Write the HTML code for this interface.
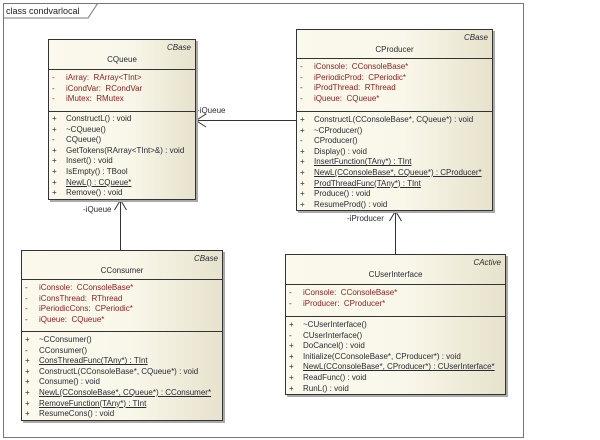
<!DOCTYPE html>
<html><head><meta charset="utf-8"><style>
body{margin:0;width:600px;height:440px;background:#fff;position:relative;overflow:hidden;font-family:"Liberation Sans",sans-serif;font-size:8px;color:#2a2a35}
.frame{position:absolute;left:3px;top:3px;width:519px;height:433px;border:1px solid #777}
.cls{position:absolute;border:1px solid #333;background:linear-gradient(90deg,#fbf9ec 0%,#f9f7e9 55%,#e6e2cc 100%);box-shadow:2px 2px 0 #aaa}
.st{position:absolute;right:4px;top:3px;font-style:italic}
.nm{position:absolute;left:0;right:0;text-align:center}
.hr{position:absolute;left:0;right:0;border-top:1px solid #333}
.r{position:absolute;left:3px;white-space:nowrap;line-height:10.6px}
.r b{font-weight:normal;display:inline-block;width:14px}
.a{color:#8a1c1c}
.u{text-decoration:underline}
.lbl{position:absolute;white-space:nowrap;font-size:8px}
</style></head><body>
<div class="frame"></div>
<svg width="100" height="18" style="position:absolute;left:3px;top:3px"><path d="M0 15 H85 L95 0" fill="none" stroke="#777"/><text x="3" y="11" font-family="Liberation Sans" font-size="9" fill="#222">class condvarlocal</text></svg>

<svg width="600" height="440" style="position:absolute;left:0;top:0">
<g stroke="#333" fill="none" stroke-width="1">
<line x1="296" y1="120.5" x2="196" y2="120.5"/><path d="M206 114 L196 120.5 L206 127"/>
<line x1="120.5" y1="250" x2="120.5" y2="200"/><path d="M114.5 210 L120.5 200 L126.5 210"/>
<line x1="395.5" y1="254" x2="395.5" y2="211"/><path d="M389.5 221 L395.5 211 L401.5 221"/>
</g></svg>
<div class="lbl" style="left:197px;top:106px">-iQueue</div>
<div class="lbl" style="left:83px;top:205px">-iQueue</div>
<div class="lbl" style="left:347px;top:214px">-iProducer</div>

<div class="cls" style="left:48px;top:39px;width:146px;height:159px">
<div class="st">CBase</div><div class="nm" style="top:15px">CQueue</div>
<div class="hr" style="top:29px"></div>
<div class="r a" style="top:33px"><b>-</b>iArray:&nbsp; RArray&lt;TInt&gt;</div>
<div class="r a" style="top:43.6px"><b>-</b>iCondVar:&nbsp; RCondVar</div>
<div class="r a" style="top:54.2px"><b>-</b>iMutex:&nbsp; RMutex</div>
<div class="hr" style="top:71px"></div>
<div class="r" style="top:74px"><b>+</b>ConstructL() : void</div>
<div class="r" style="top:84.6px"><b>+</b>~CQueue()</div>
<div class="r" style="top:95.2px"><b>-</b>CQueue()</div>
<div class="r" style="top:105.8px"><b>+</b>GetTokens(RArray&lt;TInt&gt;&amp;) : void</div>
<div class="r" style="top:116.4px"><b>+</b>Insert() : void</div>
<div class="r" style="top:127px"><b>+</b>IsEmpty() : TBool</div>
<div class="r" style="top:137.6px"><b>+</b><span class="u">NewL() : CQueue*</span></div>
<div class="r" style="top:148.2px"><b>+</b>Remove() : void</div>
</div>

<div class="cls" style="left:296px;top:29px;width:195px;height:180px">
<div class="st">CBase</div><div class="nm" style="top:15px">CProducer</div>
<div class="hr" style="top:28px"></div>
<div class="r a" style="top:32px"><b>-</b>iConsole:&nbsp; CConsoleBase*</div>
<div class="r a" style="top:42.6px"><b>-</b>iPeriodicProd:&nbsp; CPeriodic*</div>
<div class="r a" style="top:53.2px"><b>-</b>iProdThread:&nbsp; RThread</div>
<div class="r a" style="top:63.8px"><b>-</b>iQueue:&nbsp; CQueue*</div>
<div class="hr" style="top:81px"></div>
<div class="r" style="top:85px"><b>+</b>ConstructL(CConsoleBase*, CQueue*) : void</div>
<div class="r" style="top:95.6px"><b>+</b>~CProducer()</div>
<div class="r" style="top:106.2px"><b>-</b>CProducer()</div>
<div class="r" style="top:116.8px"><b>+</b>Display() : void</div>
<div class="r" style="top:127.4px"><b>+</b><span class="u">InsertFunction(TAny*) : TInt</span></div>
<div class="r" style="top:138px"><b>+</b><span class="u">NewL(CConsoleBase*, CQueue*) : CProducer*</span></div>
<div class="r" style="top:148.6px"><b>+</b><span class="u">ProdThreadFunc(TAny*) : TInt</span></div>
<div class="r" style="top:159.2px"><b>+</b>Produce() : void</div>
<div class="r" style="top:169.8px"><b>+</b>ResumeProd() : void</div>
</div>

<div class="cls" style="left:21px;top:250px;width:200px;height:169px">
<div class="st">CBase</div><div class="nm" style="top:15px">CConsumer</div>
<div class="hr" style="top:28px"></div>
<div class="r a" style="top:32px"><b>-</b>iConsole:&nbsp; CConsoleBase*</div>
<div class="r a" style="top:42.6px"><b>-</b>iConsThread:&nbsp; RThread</div>
<div class="r a" style="top:53.2px"><b>-</b>iPeriodicCons:&nbsp; CPeriodic*</div>
<div class="r a" style="top:63.8px"><b>-</b>iQueue:&nbsp; CQueue*</div>
<div class="hr" style="top:80px"></div>
<div class="r" style="top:84px"><b>+</b>~CConsumer()</div>
<div class="r" style="top:94.6px"><b>-</b>CConsumer()</div>
<div class="r" style="top:105.2px"><b>+</b><span class="u">ConsThreadFunc(TAny*) : TInt</span></div>
<div class="r" style="top:115.8px"><b>+</b>ConstructL(CConsoleBase*, CQueue*) : void</div>
<div class="r" style="top:126.4px"><b>+</b>Consume() : void</div>
<div class="r" style="top:137px"><b>+</b><span class="u">NewL(CConsoleBase*, CQueue*) : CConsumer*</span></div>
<div class="r" style="top:147.6px"><b>+</b><span class="u">RemoveFunction(TAny*) : TInt</span></div>
<div class="r" style="top:158.2px"><b>+</b>ResumeCons() : void</div>
</div>

<div class="cls" style="left:285px;top:254px;width:219px;height:139px">
<div class="st">CActive</div><div class="nm" style="top:15px">CUserInterface</div>
<div class="hr" style="top:29px"></div>
<div class="r a" style="top:33px"><b>-</b>iConsole:&nbsp; CConsoleBase*</div>
<div class="r a" style="top:43.6px"><b>-</b>iProducer:&nbsp; CProducer*</div>
<div class="hr" style="top:61px"></div>
<div class="r" style="top:65px"><b>+</b>~CUserInterface()</div>
<div class="r" style="top:75.6px"><b>-</b>CUserInterface()</div>
<div class="r" style="top:86.2px"><b>+</b>DoCancel() : void</div>
<div class="r" style="top:96.8px"><b>+</b>Initialize(CConsoleBase*, CProducer*) : void</div>
<div class="r" style="top:107.4px"><b>+</b><span class="u">NewL(CConsoleBase*, CProducer*) : CUserInterface*</span></div>
<div class="r" style="top:118px"><b>+</b>ReadFunc() : void</div>
<div class="r" style="top:128.6px"><b>+</b>RunL() : void</div>
</div>
</body></html>
